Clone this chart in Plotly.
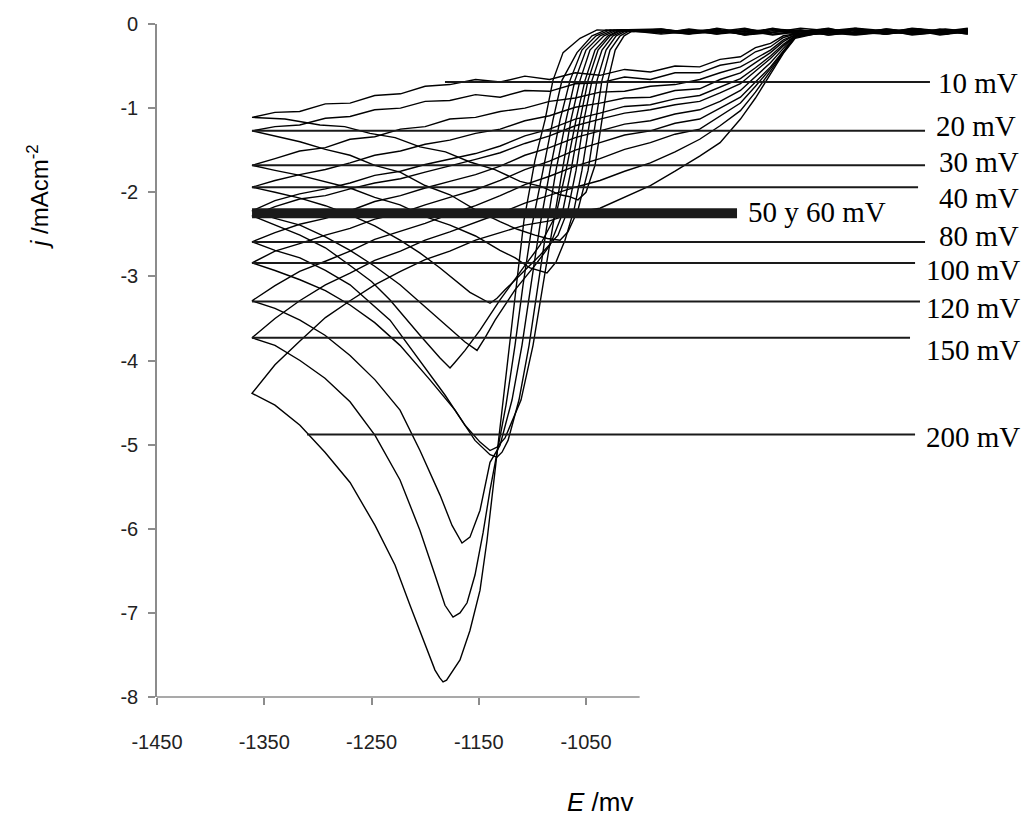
import plotly.graph_objects as go

# Potential grid (mV) shared by every return sweep, from the cathodic limit back to the start
rev_e = [-1361.4, -1340, -1317, -1293, -1270, -1247, -1223, -1200, -1177, -1153,
         -1130, -1107, -1084, -1060, -1037, -1014, -990, -967, -944, -925,
         -906, -892, -878, -866, -855, -830, -800, -770, -740, -715, -694]

# Forward sweeps (mV, mA/cm2): start potential -> nucleation -> peak -> cathodic limit
fwd_e_10 = [-694, -720, -746, -772, -798, -824, -850, -876, -902, -928, -954, -980,
            -1005.2, -1014.5, -1022.8, -1029.5, -1035.1, -1041.6, -1050.0, -1057.5,
            -1066, -1074.2, -1092, -1111.5, -1135, -1158.2, -1181, -1204.8, -1228,
            -1251.4, -1275, -1298.0, -1330.7, -1361.4]
fwd_j_10 = [-0.07, -0.11, -0.06, -0.10, -0.12, -0.05, -0.09, -0.12, -0.07, -0.10, -0.06, -0.11,
            -0.07, -0.14, -0.31, -0.67, -1.14, -1.68, -2.00, -2.09,
            -2.05, -2.03, -1.93, -1.87, -1.73, -1.64, -1.52, -1.46, -1.35,
            -1.30, -1.22, -1.20, -1.13, -1.11]
rev_j_10 = [-1.11, -1.05, -1.04, -0.95, -0.94, -0.85, -0.83, -0.74, -0.72, -0.66,
            -0.69, -0.62, -0.66, -0.58, -0.61, -0.54, -0.57, -0.50, -0.51, -0.42,
            -0.39, -0.28, -0.23, -0.14, -0.12, -0.07, -0.11, -0.06, -0.10, -0.08, -0.11]

fwd_e_20 = [-694, -720, -746, -772, -798, -824, -850, -876, -902, -928, -954, -980,
            -1008.0, -1018.2, -1027.6, -1035.1, -1040.6, -1048.1, -1057.5, -1066.8, -1074.2,
            -1086, -1097.6, -1114, -1130.2, -1153, -1176.8, -1200, -1223.4, -1247,
            -1270.0, -1293, -1316.7, -1340.0, -1361.4]
fwd_j_20 = [-0.10, -0.06, -0.12, -0.08, -0.05, -0.11, -0.07, -0.10, -0.13, -0.06, -0.09, -0.07,
            -0.07, -0.14, -0.31, -0.67, -1.14, -1.74, -2.21, -2.47, -2.57,
            -2.55, -2.51, -2.44, -2.35, -2.21, -2.03, -1.92, -1.76, -1.68,
            -1.56, -1.49, -1.40, -1.33, -1.27]
rev_j_20 = [-1.27, -1.22, -1.20, -1.12, -1.10, -1.02, -1.00, -0.92, -0.91, -0.84,
            -0.87, -0.79, -0.80, -0.71, -0.70, -0.63, -0.66, -0.58, -0.58, -0.49,
            -0.45, -0.33, -0.27, -0.16, -0.12, -0.09, -0.05, -0.11, -0.07, -0.12, -0.08]

fwd_e_30 = [-694, -720, -746, -772, -798, -824, -850, -876, -902, -928, -954, -980,
            -1010.8, -1021.9, -1031.3, -1039.7, -1046.3, -1053.8, -1061.2, -1069.6, -1078.0, -1086.4,
            -1102.2, -1116, -1130.2, -1153, -1176.8, -1200, -1223.4, -1247, -1270.0,
            -1293, -1316.7, -1340.0, -1361.4]
fwd_j_30 = [-0.08, -0.12, -0.07, -0.10, -0.06, -0.11, -0.13, -0.06, -0.09, -0.12, -0.07, -0.10,
            -0.07, -0.14, -0.31, -0.67, -1.14, -1.74, -2.21, -2.57, -2.83, -2.96,
            -2.90, -2.78, -2.69, -2.52, -2.39, -2.29, -2.15, -2.06, -1.95,
            -1.88, -1.80, -1.74, -1.68]
rev_j_30 = [-1.68, -1.60, -1.51, -1.47, -1.37, -1.34, -1.25, -1.22, -1.13, -1.11,
            -1.04, -1.00, -0.92, -0.88, -0.81, -0.80, -0.74, -0.72, -0.66, -0.58,
            -0.51, -0.41, -0.31, -0.19, -0.13, -0.10, -0.07, -0.12, -0.06, -0.10, -0.09]

fwd_e_40 = [-694, -720, -746, -772, -798, -824, -850, -876, -902, -928, -954, -980,
            -1013.6, -1024.8, -1035.1, -1044.4, -1051.9, -1059.3, -1066.8, -1076.1, -1092.9,
            -1111.5, -1125.5, -1133.0, -1139.5,
            -1158.2, -1186.1, -1205, -1223.4, -1247, -1270.0, -1293, -1316.7, -1340.0, -1361.4]
fwd_j_40 = [-0.11, -0.07, -0.09, -0.12, -0.06, -0.10, -0.08, -0.12, -0.05, -0.09, -0.11, -0.07,
            -0.07, -0.14, -0.31, -0.67, -1.14, -1.74, -2.21, -2.51, -2.75,
            -2.98, -3.16, -3.26, -3.32,
            -3.19, -2.90, -2.72, -2.57, -2.40, -2.27, -2.16, -2.07, -2.00, -1.94]
rev_j_40 = [-1.94, -1.86, -1.79, -1.73, -1.65, -1.56, -1.51, -1.43, -1.38, -1.30,
            -1.25, -1.15, -1.09, -0.99, -0.94, -0.88, -0.87, -0.79, -0.77, -0.66,
            -0.58, -0.46, -0.34, -0.21, -0.13, -0.08, -0.12, -0.06, -0.10, -0.07, -0.10]

fwd_e_50 = [-694, -720, -746, -772, -798, -824, -850, -876, -902, -928, -954, -980,
            -1016.4, -1027.6, -1038.8, -1048.1, -1055.6, -1064.0, -1072.4, -1083.6, -1097.6,
            -1116.2, -1134.8, -1144.2, -1151.6,
            -1162.8, -1186.1, -1205, -1223.4, -1247, -1270.0, -1293, -1316.7, -1340.0, -1361.4]
fwd_j_50 = [-0.06, -0.10, -0.13, -0.07, -0.11, -0.08, -0.05, -0.10, -0.12, -0.07, -0.09, -0.12,
            -0.07, -0.14, -0.31, -0.67, -1.14, -1.74, -2.27, -2.63, -2.87,
            -3.16, -3.52, -3.73, -3.88,
            -3.78, -3.52, -3.30, -3.10, -2.88, -2.69, -2.53, -2.39, -2.31, -2.22]
rev_j_50 = [-2.22, -2.10, -2.02, -1.96, -1.89, -1.80, -1.75, -1.67, -1.61, -1.54,
            -1.45, -1.33, -1.25, -1.13, -1.06, -0.98, -0.96, -0.89, -0.85, -0.75,
            -0.65, -0.52, -0.38, -0.24, -0.14, -0.11, -0.06, -0.10, -0.08, -0.12, -0.07]

fwd_e_60 = [-694, -720, -746, -772, -798, -824, -850, -876, -902, -928, -954, -980,
            -1018.2, -1029.5, -1041.6, -1050.9, -1059.3, -1068.6, -1078.0, -1092.9, -1106.9,
            -1130.2, -1148.8, -1162.8, -1172.1, -1176.8,
            -1186.1, -1204.8, -1232.7, -1250, -1270.0, -1293, -1316.7, -1340.0, -1361.4]
fwd_j_60 = [-0.12, -0.08, -0.05, -0.11, -0.09, -0.13, -0.07, -0.10, -0.06, -0.12, -0.08, -0.10,
            -0.07, -0.14, -0.31, -0.67, -1.14, -1.74, -2.27, -2.63, -2.87,
            -3.28, -3.64, -3.88, -4.02, -4.09,
            -3.97, -3.70, -3.28, -3.06, -2.87, -2.66, -2.51, -2.39, -2.28]
rev_j_60 = [-2.28, -2.17, -2.08, -2.04, -1.96, -1.89, -1.84, -1.76, -1.69, -1.61,
            -1.53, -1.42, -1.33, -1.21, -1.13, -1.06, -1.02, -0.96, -0.92, -0.82,
            -0.71, -0.56, -0.41, -0.26, -0.14, -0.09, -0.12, -0.07, -0.11, -0.06, -0.09]

fwd_e_80 = [-694, -720, -746, -772, -798, -824, -850, -876, -902, -928, -954, -980,
            -1021.0, -1033.2, -1046.3, -1055.6, -1064.0, -1072.4, -1080.8, -1090.1, -1099.4,
            -1110.6, -1125.5, -1133.0, -1139.5,
            -1148.8, -1162.8, -1181.5, -1204.8, -1232.7, -1270.0, -1293, -1316.7, -1340.0, -1361.4]
fwd_j_80 = [-0.09, -0.13, -0.07, -0.10, -0.12, -0.06, -0.11, -0.08, -0.13, -0.07, -0.11, -0.06,
            -0.07, -0.14, -0.31, -0.67, -1.14, -1.74, -2.39, -3.10, -3.82,
            -4.47, -4.92, -5.03, -5.07,
            -4.97, -4.77, -4.41, -4.00, -3.52, -3.10, -2.93, -2.78, -2.69, -2.59]
rev_j_80 = [-2.59, -2.48, -2.38, -2.31, -2.22, -2.11, -2.04, -1.95, -1.87, -1.79,
            -1.69, -1.56, -1.47, -1.35, -1.27, -1.19, -1.15, -1.07, -1.02, -0.92,
            -0.79, -0.63, -0.46, -0.29, -0.14, -0.10, -0.07, -0.12, -0.08, -0.11, -0.06]

fwd_e_100 = [-694, -720, -746, -772, -798, -824, -850, -876, -902, -928, -954, -980,
             -1023.8, -1036.9, -1050.0, -1060.3, -1068.6, -1078.0, -1086.4, -1094.8, -1103.1,
             -1112.5, -1122.7, -1128.3, -1133.0,
             -1139.5, -1153.5, -1172.1, -1195.5, -1223.4, -1247, -1270.0, -1293, -1316.7,
             -1340.0, -1361.4]
fwd_j_100 = [-0.05, -0.09, -0.12, -0.07, -0.10, -0.13, -0.08, -0.06, -0.11, -0.09, -0.12, -0.08,
             -0.07, -0.14, -0.31, -0.67, -1.14, -1.74, -2.39, -3.10, -3.82,
             -4.47, -4.95, -5.09, -5.15,
             -5.12, -4.95, -4.59, -4.23, -3.82, -3.55, -3.34, -3.17, -3.04,
             -2.93, -2.84]
rev_j_100 = [-2.84, -2.70, -2.61, -2.51, -2.43, -2.32, -2.25, -2.15, -2.06, -1.97,
             -1.86, -1.73, -1.63, -1.50, -1.41, -1.32, -1.27, -1.18, -1.13, -1.00,
             -0.87, -0.69, -0.51, -0.32, -0.15, -0.08, -0.11, -0.07, -0.12, -0.09, -0.10]

fwd_e_120 = [-694, -720, -746, -772, -798, -824, -850, -876, -902, -928, -954, -980, -1004,
             -1027.6, -1040.6, -1053.8, -1064.9, -1074.2, -1083.6, -1092.9, -1101.3, -1109.7,
             -1119.0, -1130.2, -1139.5, -1148.8, -1158.2, -1165.6,
             -1174.9, -1186.1, -1204.8, -1223.4, -1246.7, -1270.0, -1293.4, -1316.7,
             -1340.0, -1361.4]
fwd_j_120 = [-0.10, -0.07, -0.12, -0.09, -0.06, -0.11, -0.12, -0.07, -0.10, -0.05, -0.12, -0.09, -0.08,
             -0.07, -0.14, -0.31, -0.67, -1.14, -1.74, -2.39, -3.10, -3.82,
             -4.47, -5.01, -5.21, -5.78, -6.10, -6.17,
             -5.96, -5.60, -5.07, -4.59, -4.23, -3.94, -3.70, -3.52,
             -3.38, -3.29]
rev_j_120 = [-3.29, -3.11, -2.94, -2.82, -2.70, -2.56, -2.46, -2.37, -2.26, -2.16,
             -2.04, -1.91, -1.81, -1.69, -1.60, -1.49, -1.41, -1.31, -1.25, -1.10,
             -0.94, -0.74, -0.53, -0.33, -0.15, -0.11, -0.07, -0.10, -0.06, -0.12, -0.08]

fwd_e_150 = [-694, -720, -746, -772, -798, -824, -850, -876, -902, -928, -954, -980, -1006,
             -1031.3, -1044.4, -1058.4, -1072.4, -1080.8, -1090.1, -1100.3, -1108.7, -1116.2,
             -1124.6, -1133.0, -1139.5, -1146.0, -1153.5, -1160.9, -1167.5, -1174.0,
             -1181.5, -1190.8, -1204.8, -1223.4, -1246.7, -1270.0, -1293.4, -1316.7,
             -1340.0, -1361.4]
fwd_j_150 = [-0.07, -0.11, -0.08, -0.12, -0.10, -0.06, -0.09, -0.13, -0.08, -0.11, -0.07, -0.10, -0.09,
             -0.07, -0.14, -0.34, -0.67, -1.14, -1.74, -2.39, -3.10, -3.82,
             -4.53, -5.12, -5.54, -6.05, -6.55, -6.88, -7.00, -7.05,
             -6.91, -6.55, -6.02, -5.42, -4.89, -4.49, -4.21, -4.00,
             -3.82, -3.73]
rev_j_150 = [-3.73, -3.50, -3.29, -3.10, -2.96, -2.81, -2.70, -2.57, -2.47, -2.36,
             -2.25, -2.13, -2.04, -1.94, -1.86, -1.75, -1.65, -1.52, -1.37, -1.21,
             -1.03, -0.81, -0.56, -0.34, -0.16, -0.09, -0.12, -0.07, -0.11, -0.08, -0.12]

fwd_e_200 = [-694, -720, -746, -772, -798, -824, -850, -876, -902, -928, -954, -980, -1006,
             -1039.7, -1055.6, -1071.4, -1080.8, -1088.2, -1097.6, -1107.8, -1114.3, -1120.9,
             -1127.4, -1133.0, -1142.3, -1148.8, -1158.2, -1167.5, -1176.8, -1180.0, -1183.3,
             -1186.5, -1190.8, -1200.1, -1214.1, -1228.1, -1246.7, -1270.0, -1293.4,
             -1316.7, -1340.0, -1361.4]
fwd_j_200 = [-0.09, -0.12, -0.06, -0.10, -0.13, -0.07, -0.11, -0.05, -0.12, -0.08, -0.10, -0.06, -0.09,
             -0.07, -0.17, -0.34, -0.67, -1.14, -1.62, -2.33, -3.04, -3.76,
             -4.47, -5.07, -6.14, -6.73, -7.21, -7.56, -7.75, -7.80, -7.82,
             -7.77, -7.68, -7.38, -6.91, -6.43, -5.96, -5.45, -5.09,
             -4.77, -4.53, -4.39]
rev_j_200 = [-4.39, -4.05, -3.77, -3.49, -3.29, -3.10, -2.94, -2.80, -2.70, -2.57,
             -2.48, -2.39, -2.34, -2.24, -2.19, -2.06, -1.92, -1.75, -1.57, -1.41,
             -1.13, -0.88, -0.59, -0.35, -0.17, -0.10, -0.13, -0.08, -0.11, -0.07, -0.10]

scan_rates = [10, 20, 30, 40, 50, 60, 80, 100, 120, 150, 200]
sweeps = {
    10: (fwd_e_10, fwd_j_10, rev_j_10),
    20: (fwd_e_20, fwd_j_20, rev_j_20),
    30: (fwd_e_30, fwd_j_30, rev_j_30),
    40: (fwd_e_40, fwd_j_40, rev_j_40),
    50: (fwd_e_50, fwd_j_50, rev_j_50),
    60: (fwd_e_60, fwd_j_60, rev_j_60),
    80: (fwd_e_80, fwd_j_80, rev_j_80),
    100: (fwd_e_100, fwd_j_100, rev_j_100),
    120: (fwd_e_120, fwd_j_120, rev_j_120),
    150: (fwd_e_150, fwd_j_150, rev_j_150),
    200: (fwd_e_200, fwd_j_200, rev_j_200),
}

# Scan-rate labels: text, current level of the leader line, and where the line meets its curve
label_text = ["10 mV", "20 mV", "30 mV", "40 mV", "50 y 60 mV",
              "80 mV", "100 mV", "120 mV", "150 mV", "200 mV"]
label_level = [-0.69, -1.27, -1.68, -1.94, -2.25, -2.59, -2.84, -3.30, -3.73, -4.88]
label_start = [-1181.5, -1361.4, -1361.4, -1361.4, -1361.4,
               -1361.4, -1361.4, -1361.4, -1361.4, -1310.1]

x_ticks = [-1450, -1350, -1250, -1150, -1050]
y_ticks = [0, -1, -2, -3, -4, -5, -6, -7, -8]

# Leader-line ends, text anchors and line weights
label_end = [-729.3, -733.9, -733.9, -740.4, -909.2, -733.9, -743.2, -738.6, -747.9, -743.2]
label_tx = [-723.5, -725.5, -723.0, -723.0, -901.0, -723.0, -735.0, -735.0, -735.0, -735.0]
label_ty = [-0.70, -1.21, -1.64, -2.07, -2.24, -2.52, -2.93, -3.37, -3.88, -4.91]
label_w = [2, 2, 2, 2, 10, 2, 2, 2, 2, 2]

fig = go.Figure()

for r in scan_rates:
    fe, fj, rj = sweeps[r]
    fig.add_trace(go.Scatter(
        x=fe + rev_e, y=fj + rj, mode="lines",
        line=dict(color="black", width=1.4),
        name=f"{r} mV/s", hoverinfo="skip", showlegend=False,
    ))

for txt, lvl, x0, x1, tx, ty, w in zip(label_text, label_level, label_start,
                                       label_end, label_tx, label_ty, label_w):
    fig.add_trace(go.Scatter(
        x=[x0, x1], y=[lvl, lvl], mode="lines",
        line=dict(color="#1a1a1a", width=w),
        hoverinfo="skip", showlegend=False,
    ))
    fig.add_annotation(
        x=tx, y=ty, xref="x", yref="y", text=txt, showarrow=False,
        xanchor="left", yanchor="middle",
        font=dict(family="Liberation Serif", size=29, color="black"),
    )

# Horizontal axis line stops at -1000 mV
fig.add_shape(type="line", xref="x", yref="paper", x0=-1450, x1=-1000, y0=0, y1=0,
              line=dict(color="#8c8c8c", width=1.6), layer="above")

tick_font = dict(family="Liberation Sans", size=20, color="#222222")

fig.update_layout(
    width=1026, height=829,
    margin=dict(l=157, r=26, t=24, b=132),
    paper_bgcolor="white", plot_bgcolor="white",
    showlegend=False,
    xaxis=dict(
        range=[-1450, -664.0], tickvals=x_ticks, ticktext=[str(v) for v in x_ticks],
        ticks="outside", ticklen=7, tickwidth=1.6, tickcolor="#8c8c8c",
        showline=False, showgrid=False, zeroline=False,
        tickfont=tick_font, ticklabelstandoff=20,
    ),
    yaxis=dict(
        range=[-8, 0], tickvals=y_ticks, ticktext=[str(v) for v in y_ticks],
        ticks="outside", ticklen=7, tickwidth=1.6, tickcolor="#8c8c8c",
        showline=True, linecolor="#8c8c8c", linewidth=1.6,
        showgrid=False, zeroline=False,
        tickfont=tick_font, ticklabelstandoff=6,
    ),
)

fig.add_annotation(
    x=(600 - 157) / 843, y=(697 - 802) / 673, xref="paper", yref="paper",
    text="<i>E</i> /mv", showarrow=False, xanchor="center", yanchor="middle",
    font=dict(family="Liberation Sans", size=26, color="black"),
)
fig.add_annotation(
    x=(38 - 157) / 843, y=(697 - 197) / 673, xref="paper", yref="paper",
    text="<i>j</i> /mAcm<sup>-2</sup>", showarrow=False, textangle=-90,
    xanchor="center", yanchor="middle",
    font=dict(family="Liberation Sans", size=24, color="black"),
)

fig.write_html("out.html")
